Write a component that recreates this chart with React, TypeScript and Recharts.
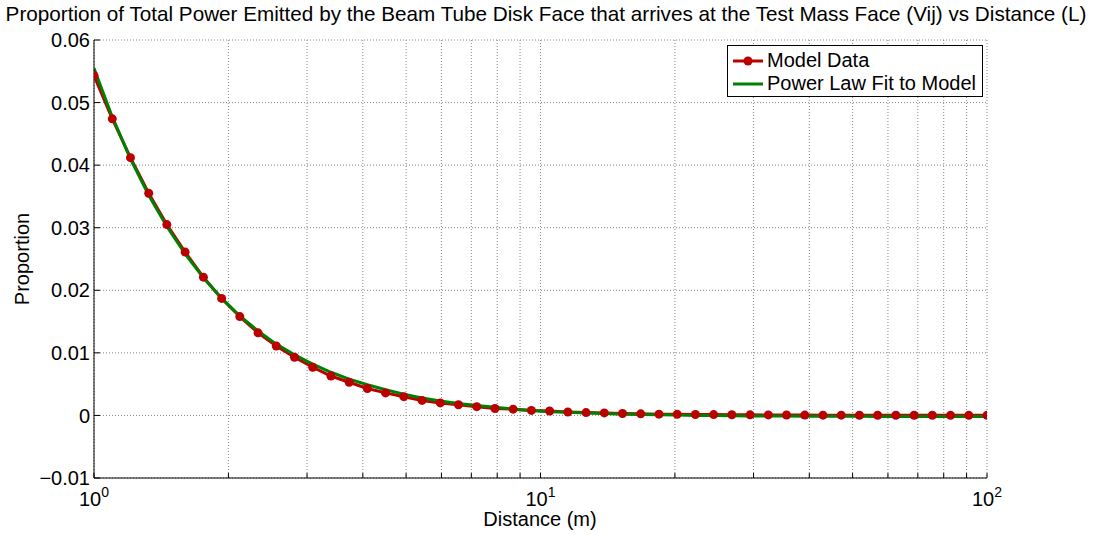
import {
  ComposedChart,
  Line,
  XAxis,
  YAxis,
  CartesianGrid,
  Legend,
} from 'recharts'

// Distance (m), log spaced from 1 to 100
const distances = [
  1, 1.099, 1.207, 1.326, 1.456, 1.6, 1.758, 1.931, 2.121, 2.33,
  2.56, 2.812, 3.089, 3.393, 3.728, 4.095, 4.498, 4.942, 5.429, 5.964,
  6.551, 7.197, 7.906, 8.685, 9.541, 10.481, 11.514, 12.649, 13.895, 15.264,
  16.768, 18.421, 20.236, 22.23, 24.421, 26.827, 29.471, 32.375, 35.565, 39.069,
  42.919, 47.149, 51.795, 56.899, 62.506, 68.665, 75.431, 82.864, 91.03, 100,
]

const modelData = [
  0.0543, 0.0474, 0.0412, 0.0355, 0.0305, 0.0261, 0.0221, 0.0187, 0.0158, 0.0132,
  0.0111, 0.0093, 0.0077, 0.0063, 0.0053, 0.0043, 0.0036, 0.003, 0.0024, 0.002,
  0.0017, 0.0014, 0.0011, 0.001, 0.0008, 0.0007, 0.00055, 0.00045, 0.0004, 0.0003,
  0.00025, 0.0002, 0.00017, 0.00015, 0.00013, 0.00011, 0.00009, 0.00008, 0.00006, 0.00005,
  0.00004, 0.00004, 0.00003, 0.00003, 0.00002, 0.00002, 0.00002, 0.00001, 0.00001, 0.00001,
]

const powerLawFit = [
  0.0555, 0.0477, 0.041, 0.0352, 0.0302, 0.0258, 0.022, 0.0187, 0.0159, 0.0135,
  0.0114, 0.0097, 0.0082, 0.0069, 0.0058, 0.0049, 0.0041, 0.0034, 0.0028, 0.0023,
  0.0019, 0.0016, 0.0013, 0.001, 0.0008, 0.0006, 0.0005, 0.0004, 0.0003, 0.0002,
  0.00015, 0.0001, 0.00005, 0, -0.00003, -0.00006, -0.00008, -0.0001, -0.00011, -0.00012,
  -0.00013, -0.00014, -0.00015, -0.00016, -0.00017, -0.00017, -0.00018, -0.00018, -0.00019, -0.00019,
]

const xTicks = [1, 2, 3, 4, 5, 6, 7, 8, 9, 10, 20, 30, 40, 50, 60, 70, 80, 90, 100]
const yTicks = [-0.01, 0, 0.01, 0.02, 0.03, 0.04, 0.05, 0.06]

const rows = distances.map((x, i) => ({ x, model: modelData[i], fit: powerLawFit[i] }))

const FONT = 'Liberation Sans, Arial, sans-serif'
const RED = '#bb0000'
const GREEN = '#008000'

const fmtY = (v: number) => (v === 0 ? '0' : v < 0 ? `\u2212${Math.abs(v).toFixed(2)}` : v.toFixed(2))

// tickSize is 1 on every axis, so each custom tick sits 1px (+ tickMargin) off the axis line
const BottomTick = (props: any) => {
  const { x, y, payload } = props
  const v = payload.value
  const major = [1, 10, 100].includes(v)
  return (
    <g>
      <line x1={x} y1={y - 1} x2={x} y2={y - 6} stroke="#000" />
      {major && (
        <text x={x} y={y + 27} textAnchor="middle" fontSize={20} fontFamily={FONT} fill="#000">
          <tspan>10</tspan>
          <tspan dy={-9} fontSize={14}>{Math.round(Math.log10(v))}</tspan>
        </text>
      )}
    </g>
  )
}

const TopTick = (props: any) => (
  <line x1={props.x} y1={props.y + 1} x2={props.x} y2={props.y + 6} stroke="#000" />
)

const LeftTick = (props: any) => {
  const { x, y, payload } = props
  return (
    <g>
      <line x1={x + 4} y1={y} x2={x + 10} y2={y} stroke="#000" />
      <text x={x} y={y} dy="0.355em" textAnchor="end" fontSize={20} fontFamily={FONT} fill="#000">
        {fmtY(payload.value)}
      </text>
    </g>
  )
}

const RightTick = (props: any) => (
  <line x1={props.x - 1} y1={props.y} x2={props.x - 7} y2={props.y} stroke="#000" />
)

const LegendBox = () => (
  <div style={{
    boxSizing: 'border-box', width: 256, height: 52, background: '#fff',
    border: '1px solid #000', padding: '3px 0 0 5px', fontFamily: FONT, fontSize: 20, color: '#000',
  }}>
    <div style={{ display: 'flex', alignItems: 'center', height: 23 }}>
      <svg width={30} height={12} style={{ marginRight: 4 }}>
        <line x1={0} y1={6} x2={30} y2={6} stroke={RED} strokeWidth={3} />
        <circle cx={15} cy={6} r={4.5} fill={RED} />
      </svg>
      Model Data
    </div>
    <div style={{ display: 'flex', alignItems: 'center', height: 23 }}>
      <svg width={30} height={12} style={{ marginRight: 4 }}>
        <line x1={0} y1={6} x2={30} y2={6} stroke={GREEN} strokeWidth={3} />
      </svg>
      Power Law Fit to Model
    </div>
  </div>
)

export default function App() {
  return (
    <div style={{ position: 'absolute', left: 0, top: 0, width: 1093, height: 535, background: '#fff' }}>
      <ComposedChart width={1093} height={535} data={rows} margin={{ top: 40, right: 106, bottom: 0, left: 0 }}>
        <CartesianGrid stroke="#888" strokeDasharray="1 2" />
        <XAxis
          dataKey="x" type="number" scale="log" domain={[1, 100]} ticks={xTicks}
          allowDataOverflow height={57} interval={0}
          tickSize={1} tickMargin={0} tickLine={false} tick={<BottomTick />}
          axisLine={{ stroke: '#000' }}
        />
        <XAxis
          xAxisId="top" orientation="top" dataKey="x" type="number" scale="log" domain={[1, 100]}
          ticks={xTicks} allowDataOverflow height={0} interval={0}
          tickSize={1} tickMargin={0} tickLine={false} tick={<TopTick />}
          axisLine={{ stroke: '#000' }}
        />
        <YAxis
          type="number" domain={[-0.01, 0.06]} ticks={yTicks} allowDataOverflow width={94} interval={0}
          tickSize={1} tickMargin={3} tickLine={false} tick={<LeftTick />}
          axisLine={{ stroke: '#000' }}
        />
        <YAxis
          yAxisId="right" orientation="right" type="number" domain={[-0.01, 0.06]} ticks={yTicks}
          allowDataOverflow width={0} interval={0} tickSize={1} tickMargin={0} tickLine={false}
          tick={<RightTick />} axisLine={{ stroke: '#000' }}
        />
        <Line
          dataKey="model" stroke={RED} strokeWidth={3} isAnimationActive={false}
          dot={{ r: 4.5, fill: RED, stroke: RED, strokeWidth: 0 }}
        />
        <Line dataKey="fit" stroke={GREEN} strokeWidth={3} dot={false} isAnimationActive={false} />
        <Legend
          layout="horizontal" verticalAlign="middle" align="center"
          wrapperStyle={{ left: 727, top: 45, width: 256, height: 52 }}
          content={() => <LegendBox />}
        />
      </ComposedChart>
      <svg width={1093} height={535} style={{ position: 'absolute', left: 0, top: 0, pointerEvents: 'none' }}>
        <text x={546} y={21} textAnchor="middle" fontSize={20.7} fontFamily={FONT} fill="#000">
          Proportion of Total Power Emitted by the Beam Tube Disk Face that arrives at the Test Mass Face (Vij) vs Distance (L)
        </text>
        <text x={540} y={526} textAnchor="middle" fontSize={20} fontFamily={FONT} fill="#000">Distance (m)</text>
        <text transform="translate(29, 259) rotate(-90)" textAnchor="middle" fontSize={20} fontFamily={FONT} fill="#000">
          Proportion
        </text>
      </svg>
    </div>
  )
}
